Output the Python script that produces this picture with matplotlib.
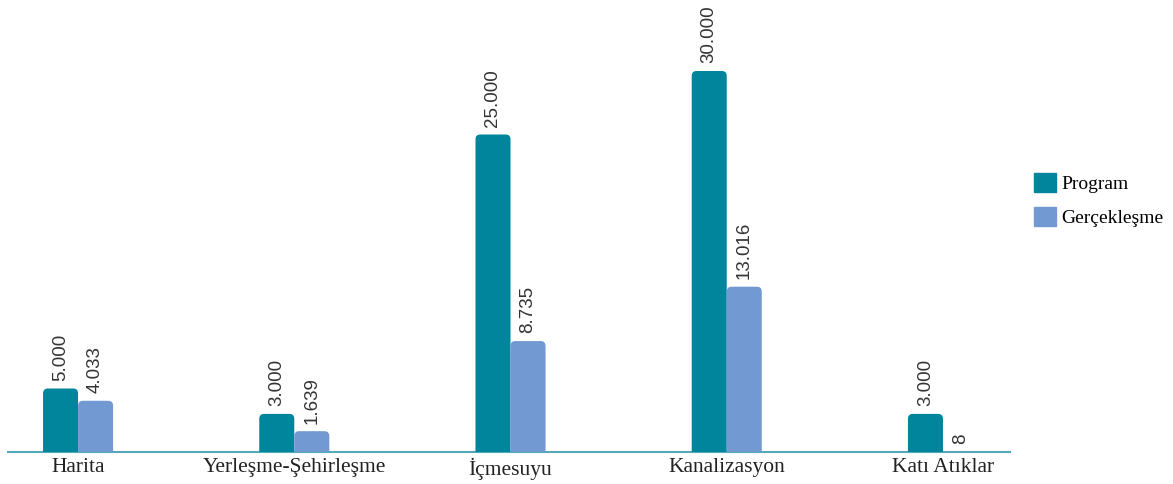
import matplotlib.pyplot as plt
from matplotlib.patches import FancyBboxPatch, Patch

# data
categories = ["Harita", "Yerleşme-Şehirleşme", "İçmesuyu", "Kanalizasyon", "Katı Atıklar"]
program = [5000, 3000, 25000, 30000, 3000]
gerceklesme = [4033, 1639, 8735, 13016, 8]

c_prog = "#00859c"
c_gerc = "#7299d1"

def fmt(v):
    return f"{v:,}".replace(",", ".")

fig = plt.figure(figsize=(11.73, 4.84), dpi=100)
ax = fig.add_axes([8 / 1173, 32 / 484, 1002 / 1173, 452 / 484])

ymax = 35590
ax.set_xlim(-0.324, 4.31)
ax.set_ylim(0, ymax)

w = 0.162
x = list(range(len(categories)))
b1 = ax.bar([i - w / 2 for i in x], program, w, color=c_prog)
b2 = ax.bar([i + w / 2 for i in x], gerceklesme, w, color=c_gerc)

ax.axhline(0, color="#55a8b7", lw=1.5, clip_on=False, zorder=1)

# swap plain rectangles for rounded-top boxes
rx = 0.022
ry = 5 * ymax / 452
for bars in (b1, b2):
    for rect in bars:
        bx, by, bw, bh = rect.get_x(), rect.get_y(), rect.get_width(), rect.get_height()
        col = rect.get_facecolor()
        rect.set_visible(False)
        p = FancyBboxPatch((bx, by - ry * 2), bw, bh + ry * 2,
                           boxstyle=f"round,pad=0,rounding_size={rx}",
                           mutation_aspect=ry / rx, facecolor=col, edgecolor="none",
                           zorder=2)
        ax.add_patch(p)
        ax.text(bx + bw / 2, bh + 600, fmt(int(round(bh))), rotation=90,
                ha="center", va="bottom", fontsize=13.5,
                family="Liberation Sans", color="#333333")

ax.set_xticks(x)
ax.set_xticklabels(categories, family="Liberation Serif", fontsize=15.5, color="#222222")
ax.tick_params(axis="x", length=0, pad=4)
ax.set_yticks([])
for s in ax.spines.values():
    s.set_visible(False)

handles = [Patch(color=c_prog, label="Program"), Patch(color=c_gerc, label="Gerçekleşme")]
fig.legend(handles=handles, loc="center left", bbox_to_anchor=(1034 / 1173, 1 - 200 / 484),
           frameon=False, prop={"family": "Liberation Serif", "size": 14},
           borderpad=0, borderaxespad=0,
           handlelength=1.15, handleheight=1.15, handletextpad=0.25, labelspacing=0.7)

fig.savefig("out.png", dpi=100)
